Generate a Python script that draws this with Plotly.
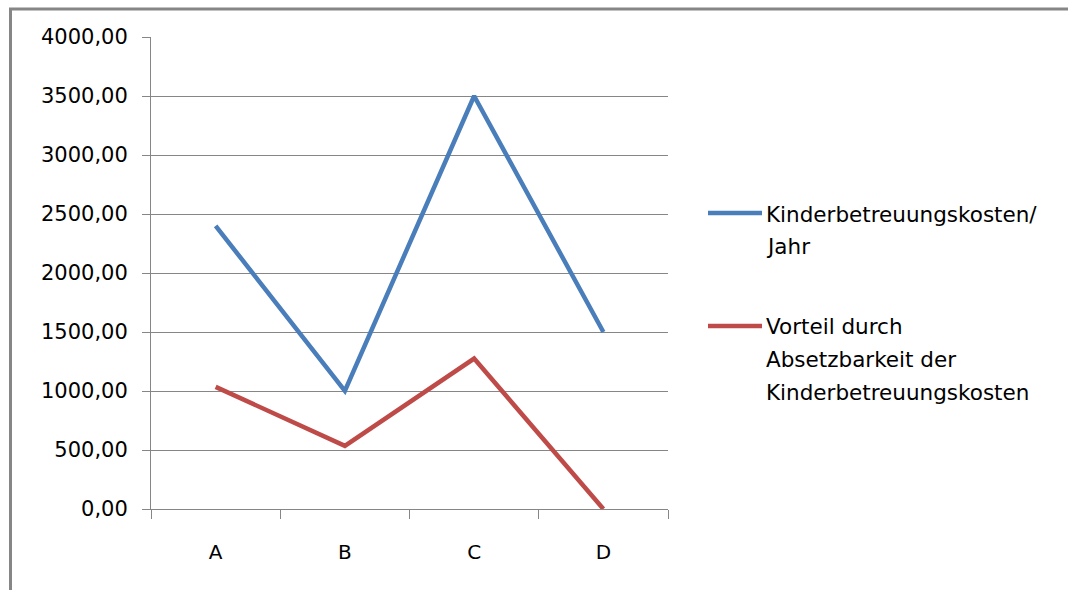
import plotly.graph_objects as go

categories = ["A", "B", "C", "D"]
kosten = [2400, 1000, 3500, 1500]
vorteil = [1035, 535, 1275, 0]
series_names = ["Kinderbetreuungskosten/ Jahr",
                "Vorteil durch Absetzbarkeit der Kinderbetreuungskosten"]
legend_lines_1 = ["Kinderbetreuungskosten/", "Jahr"]
legend_lines_2 = ["Vorteil durch", "Absetzbarkeit der", "Kinderbetreuungskosten"]
y_ticks = [0, 500, 1000, 1500, 2000, 2500, 3000, 3500, 4000]

BLUE = "#4A7EBB"
RED = "#BE4B48"
GRID = "#868686"
FONT = "DejaVu Sans"

W, H = 1069, 590
L, R, T, B = 151, 668, 37, 509


def px(x):
    return (x - L) / (R - L)


def py(y):
    return (B - y) / (B - T)


fig = go.Figure()
fig.add_trace(go.Scatter(x=categories, y=kosten, mode="lines", name=series_names[0],
                         line=dict(color=BLUE, width=4.5), showlegend=False))
fig.add_trace(go.Scatter(x=categories, y=vorteil, mode="lines", name=series_names[1],
                         line=dict(color=RED, width=4.5), showlegend=False))

shapes = []
annotations = []
# outer frame (left and top edges visible)
shapes.append(dict(type="line", xref="paper", yref="paper", x0=px(10.5), x1=px(10.5),
                   y0=py(8), y1=py(600), line=dict(color=GRID, width=3)))
shapes.append(dict(type="line", xref="paper", yref="paper", x0=px(9), x1=px(1068),
                   y0=py(9), y1=py(9), line=dict(color=GRID, width=3)))

# manual legend
for color, lines, y0 in [(BLUE, legend_lines_1, 213), (RED, legend_lines_2, 326)]:
    shapes.append(dict(type="line", xref="paper", yref="paper", x0=px(708), x1=px(762),
                       y0=py(y0), y1=py(y0), line=dict(color=color, width=4.5)))
    for i, t in enumerate(lines):
        annotations.append(dict(text=t, xref="paper", yref="paper", x=px(764), y=py(y0 + 1 + i * 32.5),
                                xanchor="left", yanchor="middle", showarrow=False,
                                font=dict(family=FONT, size=21.5, color="black")))

fig.update_layout(
    width=W, height=H,
    margin=dict(l=L, r=W - R, t=T, b=H - B, autoexpand=False),
    paper_bgcolor="white", plot_bgcolor="white",
    separators=",.",
    shapes=shapes, annotations=annotations,
    font=dict(family=FONT, size=21, color="black"),
    xaxis=dict(type="category", range=[-0.5, 3.5], tickson="boundaries", ticks="outside",
               ticklen=9, tickcolor=GRID, tickwidth=1, showline=True, linecolor=GRID, linewidth=1,
               showgrid=False, zeroline=False, ticklabelstandoff=25, automargin=False,
               tickfont=dict(family=FONT, size=20)),
    yaxis=dict(range=[0, 4000], tickvals=y_ticks, tickformat=".2f", ticks="outside", ticklen=8,
               tickcolor=GRID, tickwidth=1, showline=True, linecolor=GRID, linewidth=1,
               showgrid=True, gridcolor=GRID, gridwidth=1, zeroline=False,
               ticklabelstandoff=10, automargin=False,
               tickfont=dict(family=FONT, size=21)),
)

fig.write_html("out.html", config={"displayModeBar": False},
               post_script="document.body.style.margin='0';")
